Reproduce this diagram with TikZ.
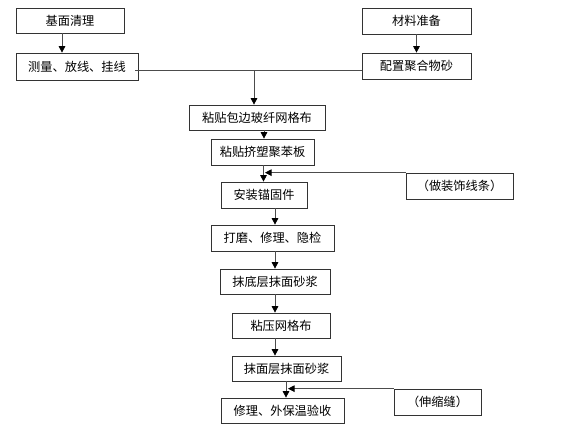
\documentclass[tikz,border=0pt]{standalone}
\usepackage{fontspec}
\newfontfamily\cjk{Noto Sans CJK SC}
\usetikzlibrary{arrows.meta,calc}
\begin{document}
\begin{tikzpicture}[x=1pt,y=-1pt,
  box/.style={draw=black!80,line width=0.7pt,inner sep=0pt,minimum height=25pt,
    font=\cjk\fontsize{12.2}{14}\selectfont,text=black},
  conn/.style={draw=black!70,line width=0.8pt},
  arr/.style={conn,-{Triangle[length=6.5pt,width=6.5pt,color=black]}}]
\useasboundingbox (0,0) rectangle (576,432);
\node[box,minimum width=108pt,minimum height=25pt] (A) at (70,20.5) {基面清理};
\node[box,minimum width=122pt,minimum height=27pt] (B) at (77,66.5) {测量、放线、挂线};
\node[box,minimum width=109pt,minimum height=26pt] (C) at (416.5,21) {材料准备};
\node[box,minimum width=109pt,minimum height=26pt] (D) at (416.5,66) {配置聚合物砂};
\node[box,minimum width=136pt,minimum height=25pt] (E) at (257,117.5) {粘贴包边玻纤网格布};
\node[box,minimum width=103pt,minimum height=26pt] (F) at (262.5,152) {粘贴挤塑聚苯板};
\node[box,minimum width=86pt,minimum height=26pt] (G) at (264,195) {安装锚固件};
\node[box,minimum width=107pt,minimum height=26pt] (H) at (459.5,186) {（做装饰线条）};
\node[box,minimum width=123pt,minimum height=26pt] (I) at (272.5,238) {打磨、修理、隐检};
\node[box,minimum width=110pt,minimum height=25pt] (J) at (275,281.5) {抹底层抹面砂浆};
\node[box,minimum width=98pt,minimum height=25pt] (K) at (281,325.5) {粘压网格布};
\node[box,minimum width=109pt,minimum height=25pt] (L) at (286.5,368.5) {抹面层抹面砂浆};
\node[box,minimum width=123pt,minimum height=25pt] (M) at (282.5,410.5) {修理、外保温验收};
\node[box,minimum width=87pt,minimum height=26pt] (N) at (437.5,402) {（伸缩缝）};
% top connectors
\coordinate (a1) at ($(A.south)+(-8,0)$);
\draw[arr] (a1) -- (a1 |- B.north);
\draw[arr] (C.south) -- (D.north);
\draw[conn] ($(B.east)+(-3,3.5)$) -- ($(D.west)+(0,4)$);
\coordinate (j1) at ($(E.north)+(-3,0)$);
\coordinate (j0) at ($(j1 |- D.west)+(0,4)$);
\draw[arr] (j0) -- (j1);
\draw[arr] ($(E.south)+(7,0)$) -- ($(F.north)+(1.5,0)$);
\draw[arr] ($(F.south)+(1,0)$) -- ($(G.north)+(-0.5,0)$);
\coordinate (t1) at ($(G.north)+(1,-9)$);
\draw[arr] (H.north west) -- (t1);
\draw[arr] ($(G.south)+(11,0)$) -- ($(I.north)+(2.5,0)$);
\draw[arr] ($(I.south)+(2.5,0)$) -- (J.north);
\draw[arr] (J.south) -- ($(K.north)+(-6,0)$);
\draw[arr] ($(K.south)+(-6,0)$) -- ($(L.north)+(-11.5,0)$);
\draw[arr] ($(L.south)+(-0.5,0)$) -- ($(M.north)+(3.5,0)$);
\coordinate (t2) at ($(M.north)+(5.5,-9)$);
\draw[arr] (N.north west) -- (t2);
\end{tikzpicture}
\end{document}
